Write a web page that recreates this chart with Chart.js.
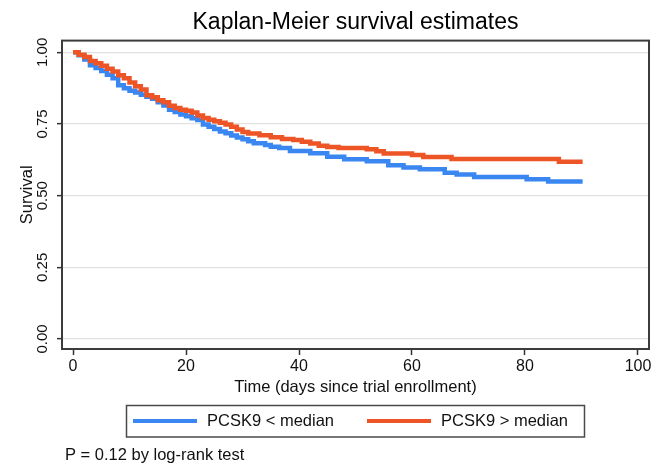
<!DOCTYPE html>
<html>
<head>
<meta charset="utf-8">
<script src="https://cdn.jsdelivr.net/npm/chart.js@4"></script>
<style>
  html, body { margin: 0; padding: 0; background: #fff; }
  #wrap { width: 661px; height: 476px; position: relative; }
</style>
</head>
<body>
<div id="wrap"><canvas id="c"></canvas></div>
<script>
// ---- Data (Kaplan-Meier step points) ----
const seriesNames = ['PCSK9 < median', 'PCSK9 > median'];

const blueTimes = [0, 1, 2, 3, 4, 5, 6, 7, 8, 9, 10, 11, 12, 13, 14, 15, 16, 17, 18, 19, 20, 21, 22, 23, 24, 25, 26, 27, 28, 29, 30, 31, 32, 34, 35, 36.5, 38.4, 42, 45, 48, 52, 55.8, 58.5, 61.4, 65.8, 67.9, 71, 80.3, 84.1, 90.2];
const blueSurv  = [1.0, 0.99, 0.975, 0.955, 0.945, 0.935, 0.922, 0.91, 0.885, 0.875, 0.866, 0.86, 0.852, 0.845, 0.838, 0.826, 0.815, 0.8, 0.792, 0.783, 0.777, 0.77, 0.764, 0.748, 0.74, 0.733, 0.724, 0.718, 0.71, 0.703, 0.697, 0.69, 0.683, 0.677, 0.671, 0.666, 0.656, 0.648, 0.636, 0.627, 0.62, 0.606, 0.598, 0.592, 0.58, 0.574, 0.565, 0.557, 0.549, 0.549];

const orangeTimes = [0, 1, 2, 3, 4, 5, 6, 7, 8, 9, 10, 11, 12, 13, 14, 15, 16, 17, 18, 19, 20, 21, 22, 23, 24, 25, 26, 27, 28, 29, 30, 31, 33, 35, 37, 39, 40.5, 42, 43.5, 45, 47, 52, 53.7, 55, 60, 62, 67, 86, 90.2];
const orangeSurv  = [1.0, 0.992, 0.984, 0.97, 0.962, 0.953, 0.943, 0.933, 0.92, 0.91, 0.895, 0.882, 0.87, 0.85, 0.843, 0.833, 0.826, 0.814, 0.806, 0.8, 0.796, 0.79, 0.78, 0.771, 0.765, 0.76, 0.754, 0.748, 0.74, 0.731, 0.722, 0.717, 0.711, 0.704, 0.698, 0.694, 0.688, 0.682, 0.674, 0.67, 0.666, 0.662, 0.655, 0.647, 0.642, 0.635, 0.628, 0.618, 0.618];

const xTickValues = [0, 20, 40, 60, 80, 100];
const yTickValues = [0, 0.25, 0.5, 0.75, 1];

const titleText = 'Kaplan-Meier survival estimates';
const xTitle = 'Time (days since trial enrollment)';
const yTitle = 'Survival';
const footnote = 'P = 0.12 by log-rank test';

// ---- Styling ----
const FONT = '"Liberation Sans", Arial, Helvetica, sans-serif';
const BLUE = '#3a87f2';
const ORANGE = '#ee5526';

function pts(ts, ss) { return ts.map((t, i) => ({ x: t, y: ss[i] })); }

const extras = {
  id: 'extras',
  afterDraw(chart) {
    const ctx = chart.ctx;
    const a = chart.chartArea;
    ctx.save();
    // plot frame
    ctx.strokeStyle = '#3c3c3c';
    ctx.lineWidth = 2;
    ctx.strokeRect(a.left, a.top, a.right - a.left, a.bottom - a.top);
    // legend box
    ctx.strokeStyle = '#4a4a4a';
    ctx.lineWidth = 1.5;
    ctx.strokeRect(126.5, 405.5, 458, 31.5);
    const ds = chart.data.datasets;
    const items = [{ x0: 133, x1: 197, tx: 207 }, { x0: 367, x1: 431, tx: 441 }];
    ctx.font = '16.5px ' + FONT;
    ctx.textBaseline = 'middle';
    ctx.textAlign = 'left';
    ds.forEach((d, i) => {
      const it = items[i];
      ctx.strokeStyle = d.borderColor;
      ctx.lineWidth = 4;
      ctx.beginPath();
      ctx.moveTo(it.x0, 421);
      ctx.lineTo(it.x1, 421);
      ctx.stroke();
      ctx.fillStyle = '#111';
      ctx.fillText(d.label, it.tx, 421.5);
    });
    // footnote
    ctx.fillText(footnote, 65, 455);
    ctx.restore();
  }
};

new Chart(document.getElementById('c'), {
  type: 'line',
  data: {
    datasets: [
      { label: seriesNames[0], data: pts(blueTimes, blueSurv), borderColor: BLUE, backgroundColor: BLUE,
        borderWidth: 4.5, stepped: 'before', pointRadius: 0, fill: false, order: 1 },
      { label: seriesNames[1], data: pts(orangeTimes, orangeSurv), borderColor: ORANGE, backgroundColor: ORANGE,
        borderWidth: 4.5, stepped: 'before', pointRadius: 0, fill: false, order: 0 }
    ]
  },
  options: {
    responsive: true,
    maintainAspectRatio: false,
    animation: false,
    devicePixelRatio: 1,
    layout: { padding: { left: 5, right: 12, top: 0, bottom: 71 } },
    plugins: {
      legend: { display: false },
      tooltip: { enabled: false },
      title: {
        display: true, text: titleText, fullSize: false, color: '#000',
        font: { family: FONT, size: 23, weight: 'normal' },
        padding: { top: 9, bottom: 4 }
      }
    },
    scales: {
      x: {
        type: 'linear', min: -1.95, max: 101.95,
        afterBuildTicks: s => { s.ticks = xTickValues.map(v => ({ value: v })); },
        afterFit: s => { s.height = 56; },
        border: { display: false },
        grid: { drawOnChartArea: false, drawTicks: true, tickLength: 6, tickColor: '#333', tickWidth: 1.5 },
        ticks: { color: '#111', padding: 2, maxRotation: 0, font: { family: FONT, size: 16 },
                 callback: v => String(v) },
        title: { display: true, text: xTitle, color: '#111', font: { family: FONT, size: 16.5 },
                 padding: { top: 0, bottom: 8 } }
      },
      y: {
        type: 'linear', min: -0.035, max: 1.041,
        afterBuildTicks: s => { s.ticks = yTickValues.map(v => ({ value: v })); },
        afterFit: s => { s.width = 57; },
        border: { display: false },
        grid: { drawOnChartArea: true, color: '#e1e1e1', lineWidth: 1.3, drawTicks: true, tickLength: 5,
                tickColor: '#333', tickWidth: 1.5 },
        ticks: { color: '#111', padding: 0, minRotation: 90, maxRotation: 90, crossAlign: 'center',
                 font: { family: FONT, size: 15 }, callback: v => Number(v).toFixed(2) },
        title: { display: true, text: yTitle, color: '#111', font: { family: FONT, size: 16.5 },
                 padding: { top: 13, bottom: 0 } }
      }
    }
  },
  plugins: [extras]
});
</script>
</body>
</html>
